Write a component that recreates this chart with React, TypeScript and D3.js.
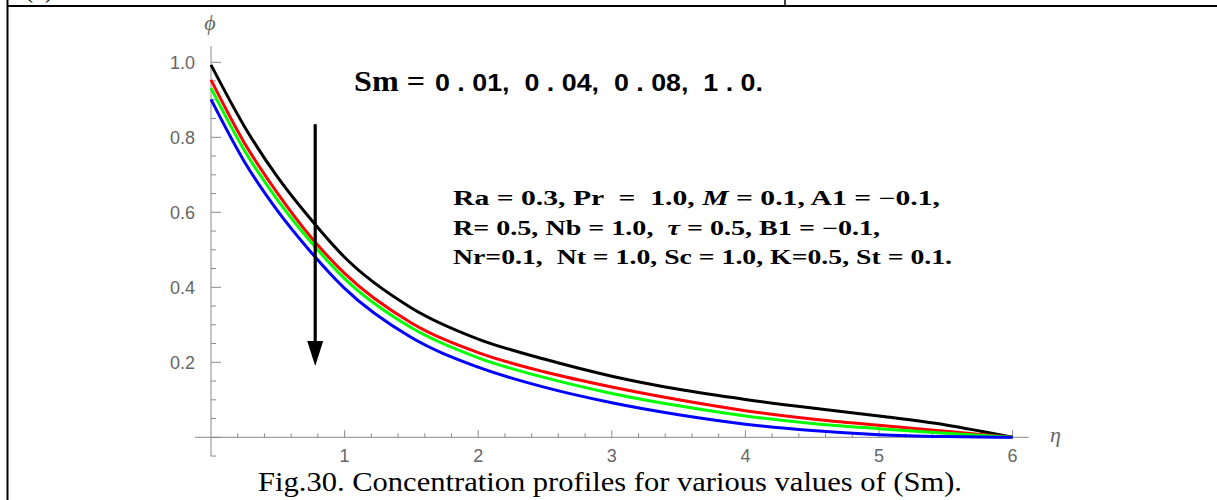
import React from 'react';
import * as d3 from 'd3';

// Similarity variable η at which the profiles are sampled
const eta = [0, 0.25, 0.5, 0.75, 1, 1.5, 2, 2.5, 3, 3.5, 4, 4.5, 5, 5.5, 6];

// Concentration φ(η) for each Sm value
const phiSm001 = [0.993, 0.829, 0.693, 0.58, 0.48, 0.345, 0.262, 0.208, 0.163, 0.128, 0.101, 0.078, 0.057, 0.033, 0];
const phiSm004 = [0.953, 0.785, 0.65, 0.533, 0.437, 0.305, 0.226, 0.174, 0.134, 0.1, 0.071, 0.049, 0.032, 0.016, 0];
const phiSm008 = [0.931, 0.765, 0.632, 0.52, 0.423, 0.292, 0.212, 0.159, 0.117, 0.084, 0.057, 0.037, 0.023, 0.011, 0];
const phiSm10 = [0.901, 0.735, 0.603, 0.493, 0.397, 0.266, 0.187, 0.133, 0.092, 0.06, 0.035, 0.018, 0.007, 0.002, 0];

const series = [phiSm001, phiSm004, phiSm008, phiSm10];
const seriesColors = ['#000000', '#ff0000', '#00ff00', '#0000ff'];

const xTicks = [1, 2, 3, 4, 5, 6];
const xTickLabels = ['1', '2', '3', '4', '5', '6'];
const yTicks = [0.2, 0.4, 0.6, 0.8, 1.0];
const yTickLabels = ['0.2', '0.4', '0.6', '0.8', '1.0'];

// Arrow showing the direction of increasing Sm
const arrowEta = 0.78;
const arrowFrom = 0.835;
const arrowTo = 0.19;

const smLabel = 'Sm =';
const smValues = '0 . 01,  0 . 04,  0 . 08,  1 . 0.';
const caption = 'Fig.30. Concentration profiles for various values of (Sm).';

export default function App() {
  const W = 1217;
  const H = 500;

  const x = d3.scaleLinear().domain([0, 6]).range([211, 1012.6]);
  const y = d3.scaleLinear().domain([0, 1]).range([437.3, 62.3]);

  const line = d3
    .line<number>()
    .x((_, i) => x(eta[i]))
    .y((d) => y(d))
    .curve(d3.curveMonotoneX);

  const axisColor = '#8a8a8a';
  const labelColor = '#666666';
  const sans = '"Liberation Sans", Arial, sans-serif';
  const serif = '"Liberation Serif", "Times New Roman", serif';

  const xMinor = d3.range(1, 30).map((k) => k * 0.2).filter((v) => Math.abs(v - Math.round(v)) > 1e-6);
  const yMinor = d3.range(-1, 21).map((k) => k * 0.05).filter((v) => Math.abs(v * 5 - Math.round(v * 5)) > 1e-6);

  const ax = x(arrowEta);
  const headLen = 25;
  const headHalf = 8;

  return (
    <div style={{ position: 'absolute', left: 0, top: 0 }}>
      <svg width={W} height={H} style={{ display: 'block', background: '#fff' }}>
        {/* table cell frame */}
        <text x={25} y={-2} fontFamily={serif} fontSize={24}>(b)</text>
        <line x1={7.5} y1={0} x2={7.5} y2={H} stroke="#000" strokeWidth={2} />
        <line x1={785} y1={0} x2={785} y2={6} stroke="#000" strokeWidth={1.5} />
        <line x1={7} y1={6} x2={W} y2={6} stroke="#000" strokeWidth={2} />

        {/* axes */}
        <line x1={x(-0.12)} y1={y(0)} x2={x(6.12)} y2={y(0)} stroke={axisColor} strokeWidth={1} />
        <line x1={x(0)} y1={y(-0.05)} x2={x(0)} y2={y(1.043)} stroke={axisColor} strokeWidth={1} />

        {xTicks.map((t) => (
          <line key={'xt' + t} x1={x(t)} x2={x(t)} y1={y(0)} y2={y(0) - 7} stroke={axisColor} />
        ))}
        {xMinor.map((t) => (
          <line key={'xm' + t} x1={x(t)} x2={x(t)} y1={y(0)} y2={y(0) - 4} stroke={axisColor} />
        ))}
        {[0, ...yTicks].map((t) => (
          <line key={'yt' + t} x1={x(0)} x2={x(0) + 10} y1={y(t)} y2={y(t)} stroke={axisColor} />
        ))}
        {yMinor.map((t) => (
          <line key={'ym' + t} x1={x(0)} x2={x(0) + 5} y1={y(t)} y2={y(t)} stroke={axisColor} />
        ))}

        {xTicks.map((t, i) => (
          <text key={'xl' + t} x={x(t)} y={y(0) + 24.5} textAnchor="middle" fontFamily={sans} fontSize={18} fill={labelColor}>
            {xTickLabels[i]}
          </text>
        ))}
        {yTicks.map((t, i) => (
          <text key={'yl' + t} x={x(0) - 16} y={y(t) + 6.5} textAnchor="end" fontFamily={sans} fontSize={18} fill={labelColor}>
            {yTickLabels[i]}
          </text>
        ))}

        <text x={x(0) - 1} y={30} textAnchor="middle" fontFamily={serif} fontStyle="italic" fontSize={22} fill={labelColor}>ϕ</text>
        <text x={x(6.32)} y={442} textAnchor="middle" fontFamily={serif} fontStyle="italic" fontSize={22} fill={labelColor}>η</text>

        {/* concentration profiles */}
        {series.map((s, i) => (
          <path key={'s' + i} d={line(s) || ''} fill="none" stroke={seriesColors[i]} strokeWidth={3} strokeLinejoin="round" />
        ))}

        {/* arrow */}
        <line x1={ax} x2={ax} y1={y(arrowFrom)} y2={y(arrowTo) - headLen + 2} stroke="#000" strokeWidth={3.2} />
        <path
          d={`M${ax - headHalf},${y(arrowTo) - headLen} L${ax + headHalf},${y(arrowTo) - headLen} L${ax},${y(arrowTo)} Z`}
          fill="#000"
        />

        {/* annotations */}
        <text x={354} y={90.5} fontFamily={serif} fontWeight="bold" fontSize={29} fill="#000" style={{ whiteSpace: 'pre' }} textLength={71} lengthAdjust="spacingAndGlyphs">
          {smLabel}
        </text>
        <text x={435} y={90.5} fontFamily={sans} fontWeight="bold" fontSize={24} fill="#000" style={{ whiteSpace: 'pre' }} textLength={328} lengthAdjust="spacingAndGlyphs">
          {smValues}
        </text>

        <text x={453} y={205} fontFamily={serif} fontWeight="bold" fontSize={20} fill="#000" style={{ whiteSpace: 'pre' }} textLength={487} lengthAdjust="spacingAndGlyphs">
          <tspan>Ra = 0.3, Pr  =  1.0, </tspan>
          <tspan fontStyle="italic">M</tspan>
          <tspan> = 0.1, A1 = −0.1,</tspan>
        </text>
        <text x={453} y={234.5} fontFamily={serif} fontWeight="bold" fontSize={20} fill="#000" style={{ whiteSpace: 'pre' }} textLength={427} lengthAdjust="spacingAndGlyphs">
          <tspan>R= 0.5, Nb = 1.0,  </tspan>
          <tspan fontStyle="italic">τ</tspan>
          <tspan> = 0.5, B1 = −0.1,</tspan>
        </text>
        <text x={453} y={263.5} fontFamily={serif} fontWeight="bold" fontSize={20} fill="#000" style={{ whiteSpace: 'pre' }} textLength={499} lengthAdjust="spacingAndGlyphs">
          Nr=0.1,  Nt = 1.0, Sc = 1.0, K=0.5, St = 0.1.
        </text>

        <text x={258} y={491} fontFamily={serif} fontSize={28} fill="#000" textLength={704} lengthAdjust="spacingAndGlyphs">
          {caption}
        </text>
      </svg>
    </div>
  );
}
